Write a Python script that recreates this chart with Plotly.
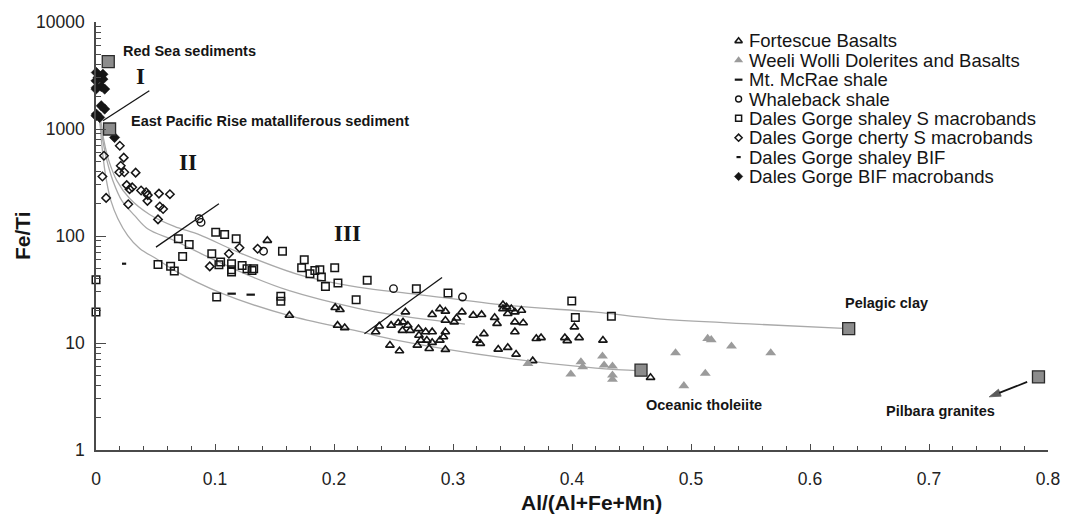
import numpy as np
import plotly.graph_objects as go

# ---------------- sample data: Al/(Al+Fe+Mn) vs Fe/Ti ----------------
fortescue_x = [0.144, 0.1625, 0.201, 0.205, 0.203, 0.209, 0.238, 0.235, 0.248, 0.247,
               0.254, 0.260, 0.258, 0.262, 0.2575, 0.264, 0.271, 0.277, 0.2825, 0.2714,
               0.273, 0.278, 0.2825, 0.270, 0.280, 0.2936, 0.292, 0.289, 0.2936, 0.255,
               0.2825, 0.289, 0.2936, 0.2936, 0.301, 0.303, 0.3075, 0.317, 0.324, 0.335,
               0.337, 0.342, 0.342, 0.326, 0.320, 0.323, 0.338, 0.345, 0.349, 0.352,
               0.3575, 0.346, 0.352, 0.359, 0.352, 0.346, 0.353, 0.370, 0.374, 0.394,
               0.396, 0.406, 0.402, 0.426, 0.367, 0.466]
fortescue_y = [90.8, 18.1, 21.4, 20.5, 14.6, 13.9, 14.4, 12.7, 14.6, 9.53,
               15.4, 19.5, 15.7, 14.6, 13.1, 13.1, 13.6, 12.7, 12.7, 11.8,
               10.6, 10.6, 10.1, 9.53, 8.87, 12.7, 11.4, 10.6, 8.69, 8.43,
               18.4, 20.9, 19.8, 16.3, 15.7, 17.1, 19.5, 18.1, 18.4, 17.3,
               15.2, 22.8, 20.9, 12.2, 10.6, 9.89, 8.74, 21.7, 20.9, 19.5,
               20.2, 18.8, 15.7, 15.4, 12.7, 9.07, 7.85, 11.0, 11.2, 11.2,
               10.5, 11.2, 14.1, 10.6, 6.80, 4.76]

weeli_x = [0.363, 0.399, 0.4075, 0.409, 0.4256, 0.427, 0.434, 0.434, 0.434, 0.487,
           0.494, 0.512, 0.514, 0.517, 0.534, 0.567]
weeli_y = [6.43, 5.11, 6.66, 5.98, 7.52, 6.20, 6.07, 5.00, 4.56, 8.08,
           3.98, 5.19, 11.0, 10.7, 9.33, 8.08]

mcrae_x = [0.114, 0.130]
mcrae_y = [28.9, 28.3]

whaleback_x = [0.0867, 0.0883, 0.1408, 0.250, 0.308]
whaleback_y = [145, 134, 72.1, 32.2, 26.9]

dg_shaley_s_x = [0.0692, 0.0783, 0.0728, 0.1006, 0.1081, 0.1178, 0.0973, 0.0521, 0.0627, 0.0658,
                 0.1033, 0.1047, 0.1139, 0.1139, 0.1139, 0.1228, 0.1269, 0.1311, 0.1325, 0.1567,
                 0.175, 0.1728, 0.1798, 0.1839, 0.1881, 0.1894, 0.1928, 0.2006, 0.2033, 0.2279,
                 0.2692, 0.0, 0.0, 0.1014, 0.1553, 0.1553, 0.2186, 0.2958, 0.3998, 0.4028,
                 0.4331]
dg_shaley_s_y = [94.2, 83.4, 64.4, 108.5, 103.2, 94.2, 68.2, 54.2, 52.2, 47.0,
                 53.9, 57.0, 55.1, 48.4, 46.0, 53.1, 49.4, 47.7, 49.4, 72.1,
                 60.0, 50.5, 44.5, 47.7, 48.4, 41.3, 33.8, 50.5, 36.3, 38.5,
                 32.2, 39.1, 19.5, 26.9, 27.3, 24.5, 25.4, 29.3, 24.7, 17.3,
                 17.8]

dg_cherty_s_x = [0.020, 0.0233, 0.0067, 0.0208, 0.0196, 0.0238, 0.0333, 0.0054, 0.0258, 0.0282,
                 0.0304, 0.0379, 0.0421, 0.0432, 0.0435, 0.0529, 0.0621, 0.0085, 0.0271, 0.0536,
                 0.0564, 0.0521, 0.1117, 0.1206, 0.1358, 0.0956]
dg_cherty_s_y = [698, 540, 563, 454, 394, 394, 391, 360, 299, 274,
                 285, 266, 256, 213, 241, 249, 246, 227, 198, 189,
                 179, 143, 68.2, 77.6, 76.0, 52]

dg_shaley_bif_x = [0.0236]
dg_shaley_bif_y = [55.1]

dg_bif_x = [0.0003, 0.0058, 0.0017, 0.0, 0.0058, 0.0044, 0.0003, 0.0, 0.0073, 0.0044,
            0.0073, 0.0003, 0.0031, 0.0, 0.0156]
dg_bif_y = [3370, 3250, 3025, 2818, 2924, 2494, 2443, 2360, 2360, 1648,
            1535, 1378, 1282, 1330, 834]

# reference compositions
ref_names = ["Red Sea sediments", "East Pacific Rise matalliferous sediment",
             "Pelagic clay", "Oceanic tholeiite", "Pilbara granites"]
ref_x = [0.0103, 0.0114, 0.6325, 0.458, 0.792]
ref_y = [4266, 1000, 13.6, 5.57, 4.82]

# mixing curves from the metalliferous end member
mix_upper_x = [0.0042, 0.0067, 0.0108, 0.0175, 0.0283, 0.045, 0.0658, 0.0867, 0.12, 0.1725,
               0.22, 0.27, 0.345, 0.42, 0.47, 0.5533, 0.6325]
mix_upper_y = [1169, 776, 506, 329, 224, 159, 123, 103, 70.2, 42.8,
               33.3, 28.5, 22.5, 19.4, 16.9, 15.0, 13.6]
mix_middle_x = [0.0033, 0.0058, 0.0092, 0.0142, 0.0217, 0.0325, 0.0433, 0.0658, 0.0933, 0.1283,
                0.1617, 0.22, 0.2533, 0.31]
mix_middle_y = [1169, 776, 506, 329, 214, 155, 117, 90.8, 64.4, 42.8,
                31.0, 21.1, 18.1, 15.0]
mix_lower_x = [0.0033, 0.0046, 0.0063, 0.0088, 0.0125, 0.0183, 0.0267, 0.0367, 0.0517, 0.0658,
               0.1058, 0.1617, 0.2175, 0.2533, 0.345, 0.42, 0.4583]
mix_lower_y = [1169, 776, 506, 329, 214, 146, 101, 76.4, 60.4, 47.7,
               29.1, 18.1, 13.1, 10.6, 7.21, 5.82, 5.49]

# field boundaries I / II / III
bound_1_x, bound_1_y = [0.0058, 0.0448], [1194, 2274]
bound_2_x, bound_2_y = [0.0504, 0.1033], [78.7, 200]
bound_3_x, bound_3_y = [0.2256, 0.2908], [12.2, 41.0]

# arrow from the Pilbara granites point towards its label (tail, head)
pilbara_arrow_x = [0.7825, 0.7506]
pilbara_arrow_y = [4.33, 3.14]

field_labels = ["I", "II", "III"]
field_label_x = [0.0375, 0.0769, 0.2117]
field_label_y = [3070, 488, 105]

# ---------------- styling ----------------
SANS = "Liberation Sans, Arial, sans-serif"
SERIF = "Liberation Serif, Times New Roman, serif"
INK = "#151515"
AXIS = "#4a4a4a"
CURVE = "#a9a9a9"

series = [
    ("Fortescue Basalts", fortescue_x, fortescue_y,
     dict(symbol="triangle-up-open", size=7.5, color=INK, line=dict(width=1.6, color=INK))),
    ("Weeli Wolli Dolerites and Basalts", weeli_x, weeli_y,
     dict(symbol="triangle-up", size=9.5, color="#9b9b9b", line=dict(width=0))),
    ("Mt. McRae shale", mcrae_x, mcrae_y,
     dict(symbol="line-ew", size=6, color=INK, line=dict(width=2.2, color=INK))),
    ("Whaleback shale", whaleback_x, whaleback_y,
     dict(symbol="circle-open", size=7.5, color=INK, line=dict(width=1.4, color=INK))),
    ("Dales Gorge shaley S macrobands", dg_shaley_s_x, dg_shaley_s_y,
     dict(symbol="square-open", size=7.5, color=INK, line=dict(width=1.5, color=INK))),
    ("Dales Gorge cherty S macrobands", dg_cherty_s_x, dg_cherty_s_y,
     dict(symbol="diamond-open", size=6.5, color=INK, line=dict(width=1.5, color=INK))),
    ("Dales Gorge shaley BIF", dg_shaley_bif_x, dg_shaley_bif_y,
     dict(symbol="line-ew", size=3, color=INK, line=dict(width=2.2, color=INK))),
    ("Dales Gorge BIF macrobands", dg_bif_x, dg_bif_y,
     dict(symbol="diamond", size=8, color=INK, line=dict(width=0.5, color=INK))),
]

fig = go.Figure()

# mixing curves
for cx, cy in [(mix_upper_x, mix_upper_y), (mix_middle_x, mix_middle_y), (mix_lower_x, mix_lower_y)]:
    fig.add_trace(go.Scatter(x=cx, y=cy, mode="lines", showlegend=False, hoverinfo="skip",
                             line=dict(color=CURVE, width=1.3, shape="spline", smoothing=1.0)))

# field boundaries
for bx, by in [(bound_1_x, bound_1_y), (bound_2_x, bound_2_y), (bound_3_x, bound_3_y)]:
    fig.add_trace(go.Scatter(x=bx, y=by, mode="lines", showlegend=False, hoverinfo="skip",
                             line=dict(color=INK, width=1.3)))

# sample groups
for name, sx, sy, mk in series:
    fig.add_trace(go.Scatter(x=sx, y=sy, mode="markers", name=name, marker=mk,
                             showlegend=False, cliponaxis=False))

# reference compositions
fig.add_trace(go.Scatter(x=ref_x, y=ref_y, mode="markers", text=ref_names, name="Reference",
                         showlegend=False, cliponaxis=False,
                         marker=dict(symbol="square", size=12, color="#8c8c8c",
                                     line=dict(width=1.3, color="#2a2a2a"))))

# Pilbara arrow: shaft plus head drawn on the data axes
fig.add_trace(go.Scatter(x=pilbara_arrow_x, y=pilbara_arrow_y, mode="lines+markers",
                         showlegend=False, hoverinfo="skip",
                         line=dict(color=INK, width=1.7),
                         marker=dict(symbol="arrow", size=[0, 12], angleref="previous",
                                     color=INK, line=dict(width=0.8, color=INK))))

# key drawn on an overlay frame spanning the plot area
x0, x1, y0, y1 = 96, 1056, 21, 450
key_marker_px = 744
key_text_px = 752
key_rows_px = [40 + 19.4 * i for i in range(len(series))]
key_sizes = [6.5, 8, 5.5, 6, 6, 5.5, 3, 6.5]
for (name, _, _, mk), py, ks in zip(series, key_rows_px, key_sizes):
    kmk = dict(mk)
    kmk["size"] = ks
    fig.add_trace(go.Scatter(x=[(key_marker_px - x0) / (x1 - x0)], y=[(y1 - py) / (y1 - y0)],
                             xaxis="x2", yaxis="y2", mode="markers", marker=kmk,
                             showlegend=False, hoverinfo="skip", cliponaxis=False))

annotations = []
for (name, _, _, _), py in zip(series, key_rows_px):
    annotations.append(dict(x=(key_text_px - x0) / (x1 - x0), y=(y1 - py) / (y1 - y0),
                            xref="paper", yref="paper", xanchor="left", yanchor="middle",
                            text=name, showarrow=False,
                            font=dict(family=SANS, size=18.5, color=INK)))

# point labels
lab_font = dict(family=SANS, size=14.5, color=INK, weight="bold")
point_labels = [
    dict(x=0.0214, y=np.log10(5370), text="Red Sea sediments", xanchor="left"),
    dict(x=0.0278, y=np.log10(1194), text="East Pacific Rise matalliferous sediment", xanchor="left"),
    dict(x=0.6647, y=np.log10(23.8), text="Pelagic clay", xanchor="center"),
    dict(x=0.5107, y=np.log10(2.63), text="Oceanic tholeiite", xanchor="center"),
    dict(x=0.710, y=np.log10(2.32), text="Pilbara granites", xanchor="center"),
]
for a in point_labels:
    a.update(xref="x", yref="y", yanchor="middle", showarrow=False, font=lab_font)
annotations += point_labels

for t, fx, fy in zip(field_labels, field_label_x, field_label_y):
    annotations.append(dict(x=fx, y=np.log10(fy), xref="x", yref="y", text=t, showarrow=False,
                            xanchor="center", yanchor="middle",
                            font=dict(family=SERIF, size=23, color=INK, weight="bold")))

# axis titles
annotations.append(dict(x=(596 - x0) / (x1 - x0), y=(y1 - 503) / (y1 - y0), xref="paper", yref="paper",
                        text="Al/(Al+Fe+Mn)", showarrow=False, xanchor="center", yanchor="middle",
                        font=dict(family=SANS, size=21, color=INK, weight="bold")))
annotations.append(dict(x=(22 - x0) / (x1 - x0), y=(y1 - 235) / (y1 - y0), xref="paper", yref="paper",
                        text="Fe/Ti", showarrow=False, textangle=-90, xanchor="center", yanchor="middle",
                        font=dict(family=SANS, size=21, color=INK, weight="bold")))

tick_font = dict(family=SANS, size=17.5, color="#222222")
y_major = [1, 10, 100, 1000, 10000]
y_minor = [m * 10 ** e for e in range(4) for m in range(2, 10)]

fig.update_layout(
    width=1072, height=515,
    margin=dict(l=x0, r=1072 - x1, t=y0, b=515 - y1),
    paper_bgcolor="white", plot_bgcolor="white",
    showlegend=False,
    annotations=annotations,
    xaxis=dict(range=[0, 0.8], tick0=0, dtick=0.1, ticks="inside", ticklen=6, tickwidth=1.2,
               tickcolor=AXIS, showline=True, linecolor=AXIS, linewidth=1.5,
               showgrid=False, zeroline=False, tickfont=tick_font, ticklabelstandoff=12,
               minor=dict(ticks="inside", ticklen=4, tickwidth=1.1, tickcolor=AXIS, dtick=0.02,
                          tick0=0, showgrid=False)),
    yaxis=dict(type="log", range=[0, 4], tickmode="array", tickvals=y_major,
               ticktext=[str(v) for v in y_major], ticks="inside", ticklen=10, tickwidth=1.2,
               tickcolor=AXIS, showline=True, linecolor=AXIS, linewidth=1.5,
               showgrid=False, zeroline=False, tickfont=tick_font, ticklabelstandoff=6,
               minor=dict(tickmode="array", tickvals=y_minor, ticks="inside", ticklen=5,
                          tickwidth=1.1, tickcolor=AXIS, showgrid=False)),
    xaxis2=dict(range=[0, 1], overlaying="x", visible=False, fixedrange=True),
    yaxis2=dict(range=[0, 1], overlaying="y", visible=False, fixedrange=True),
)

fig.write_html("out.html")
